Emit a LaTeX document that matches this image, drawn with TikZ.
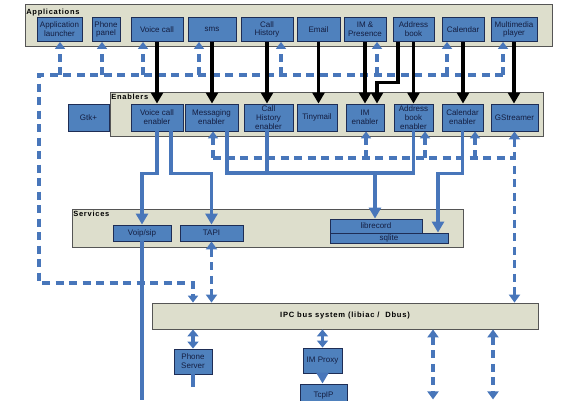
\documentclass[tikz,border=0pt]{standalone}
\usepackage{fontspec}
\setmainfont{Liberation Sans}
\newfontfamily\spacedfont[LetterSpace=10]{Liberation Sans}
\usetikzlibrary{arrows.meta}
\definecolor{boxblue}{RGB}{79,129,189}
\definecolor{boxline}{RGB}{30,45,85}
\definecolor{boxtext}{RGB}{20,30,65}
\definecolor{panelfill}{RGB}{221,222,204}
\definecolor{panelline}{RGB}{85,85,85}
\definecolor{flowblue}{RGB}{72,118,186}

\begin{document}
\begin{tikzpicture}[x=1pt, y=-1pt]
% -------------------------------------------------
% Box and connector styles
\tikzset{
  node font=\fontsize{8}{8.8}\selectfont,
  base/.style={draw=boxline, fill=boxblue, text=boxtext, align=center, inner sep=0pt, line width=0.9pt},
  app/.style={base, minimum height=24},
  enab/.style={base, minimum height=27},
  serv/.style={base, minimum height=16},
  panel/.style={draw=panelline, fill=panelfill, line width=0.8pt, inner sep=0pt},
  ptitle/.style={anchor=north west, inner sep=0pt, font=\spacedfont\bfseries\fontsize{7.5}{8}\selectfont},
  % -------------------------------------------------
  % connector line styles
  ctrl/.style={draw=black, line width=3.4pt, -{Triangle[width=12pt,length=11pt]}},
  wire/.style={draw=flowblue, line width=3.3pt},
  flow/.style={wire, -{Triangle[width=12pt,length=11pt]}},
  fboth/.style={wire, {Triangle[width=11pt,length=7pt]}-{Triangle[width=11pt,length=7pt]}},
  dline/.style={wire, dash pattern=on 8pt off 5.5pt},
  dflow/.style={dline, -{Triangle[width=10pt,length=7pt]}},
  dboth/.style={dline, {Triangle[width=11pt,length=8pt]}-{Triangle[width=11pt,length=8pt]}},
}
\useasboundingbox (0,0) rectangle (562,400);
\clip (0,0) rectangle (562,400);
% -------------------------------------------------
% The four layers
\node [panel, minimum width=527, minimum height=42.7] (apps) at (288.5,25.4) {};
\node [panel, minimum width=433, minimum height=44] (enab) at (326.5,114) {};
\node [panel, minimum width=391, minimum height=38] (serv) at (267.5,228) {};
\node [panel, minimum width=386, minimum height=26,
       font=\spacedfont\bfseries\fontsize{7.6}{8}\selectfont] (ipc) at (345,316) {IPC bus system (libiac /~~Dbus)};
\node [ptitle] (tApps) at ([shift={(1.5,5)}]apps.north west) {Applications};
\node [ptitle] (tEnab) at ([shift={(1.5,2)}]enab.north west) {Enablers};
\node [ptitle] (tServ) at ([shift={(1.5,2)}]serv.north west) {Services};
% -------------------------------------------------
% Applications
\node [app, minimum width=45] (a1) at (59.5,29.5) {Application\\launcher};
\node [app, minimum width=28] (a2) at (106,29.5) {Phone\\panel};
\node [app, minimum width=52] (a3) at (157,29.5) {Voice call};
\node [app, minimum width=48] (a4) at (212,29.5) {sms};
\node [app, minimum width=52] (a5) at (267,29.5) {Call\\History};
\node [app, minimum width=43] (a6) at (318.5,29.5) {Email};
\node [app, minimum width=42] (a7) at (365,29.5) {IM \&\\Presence};
\node [app, minimum width=41] (a8) at (413.5,29.5) {Address\\book};
\node [app, minimum width=42] (a9) at (463,29.5) {Calendar};
\node [app, minimum width=46] (a10) at (514,29.5) {Multimedia\\player};
% -------------------------------------------------
% Enablers
\node [enab, minimum width=41] (e0) at (88.5,118) {Gtk+};
\node [enab, minimum width=52] (e1) at (157,117.5) {Voice call\\enabler};
\node [enab, minimum width=53] (e2) at (211.5,117.5) {Messaging\\enabler};
\node [enab, minimum width=49] (e3) at (268.5,117.5) {Call\\History\\enabler};
\node [enab, minimum width=40] (e4) at (317,117.5) {Tinymail};
\node [enab, minimum width=38] (e5) at (365,117.5) {IM\\enabler};
\node [enab, minimum width=39] (e6) at (413.5,117.5) {Address\\book\\enabler};
\node [enab, minimum width=41] (e7) at (462.5,117.5) {Calendar\\enabler};
\node [enab, minimum width=47] (e8) at (514.5,117.5) {GStreamer};
% -------------------------------------------------
% Services
\node [serv, minimum width=58] (s1) at (142,233) {Voip/sip};
\node [serv, minimum width=63] (s2) at (211.5,233) {TAPI};
\node [base, minimum width=118, minimum height=10] (s4) at (389,238) {sqlite};
\node [base, minimum width=92, minimum height=14] (s3) at (376,226) {librecord};
% -------------------------------------------------
% Below the bus
\node [base, minimum width=38, minimum height=25] (ps) at (193,361.5) {Phone\\Server};
\node [base, minimum width=39, minimum height=25] (imp) at (322.5,360.5) {IM Proxy};
\node [base, minimum width=47, minimum height=24] (tcp) at (323.5,396) {TcpIP};
% -------------------------------------------------
% Helper coordinates for the connectors
\coordinate (fbL) at (39,75);
\coordinate (fbB) at (39,283);
\coordinate (ebR) at (515,158);
\coordinate (hub) at (375,173);
\coordinate (bot) at (0,400);
% -------------------------------------------------
% Dashed feedback to the applications
\draw [dflow] ([xshift=-11]a10.south |- fbL) -- (fbL) -- (fbB) -| ([xshift=-152]ipc.north);
\foreach \n/\dx in {a1/0.5, a2/-4, a3/-14, a4/-13, a5/14, a7/12, a9/-16, a10/-11}
  \draw [dflow] ([xshift=\dx]\n.south |- fbL) -- ([xshift=\dx]\n.south);
% dashed feedback to the enablers
\draw [dline] ([xshift=1.5]e2.south |- ebR) -- (ebR);
\foreach \n/\dx in {e2/1.5, e5/1, e6/11.5, e7/12.5}
  \draw [dflow] ([xshift=\dx]\n.south |- ebR) -- ([xshift=\dx]\n.south);
\draw [dboth] (e8.south) -- (e8.south |- ipc.north);
\draw [dboth] (s2.south) -- (s2.south |- ipc.north);
% -------------------------------------------------
% Applications use enablers
\draw [ctrl] (a3.south) -- (e1.north);
\draw [ctrl] (a4.south) -- (a4.south |- e2.north);
\draw [ctrl] (a5.south) -- (a5.south |- e3.north);
\draw [ctrl] (a6.south) -- (a6.south |- e4.north);
\draw [ctrl] (a7.south) -- (a7.south |- e5.north);
\draw [ctrl] ([xshift=-15.5]a8.south) -- ++(0,40.3) -| ([xshift=12]e5.north);
\draw [ctrl] (a8.south) -- (a8.south |- e6.north);
\draw [ctrl] (a9.south) -- (a9.south |- e7.north);
\draw [ctrl] (a10.south) -- (a10.south |- e8.north);
% -------------------------------------------------
% Enablers use services
\draw [flow] (e1.south) -- ++(0,42) -| (s1.north);
\draw [flow] ([xshift=14]e1.south) -- ++(0,42) -| (s2.north);
\draw [wire] ([xshift=15.5]e2.south) |- (hub) -| (e6.south);
\draw [wire] ([xshift=-1.5]e3.south) -- ([xshift=-1.5]e3.south |- hub);
\draw [flow] (hub) -- (hub |- s3.north);
\draw [flow] (e7.south) -- ++(0,42) -| ([xshift=49]s4.north);
\draw [wire] (s1.south) -- (s1.south |- bot);
% -------------------------------------------------
% Bus connections
\draw [fboth] (ps.north |- ipc.south) -- (ps.north);
\draw [fboth] (imp.north |- ipc.south) -- (imp.north);
\draw [flow] (imp.south) -- (imp.south |- tcp.north);
\draw [wire] (ps.south) -- ++(0,13);
\draw [flow] ([yshift=-14]ps.south |- bot) -- ++(0,-6.5);
\draw [dboth] ([xshift=88]ipc.south) -- ++(0,70);
\draw [dboth] ([xshift=148]ipc.south) -- ++(0,70);
\end{tikzpicture}
\end{document}
